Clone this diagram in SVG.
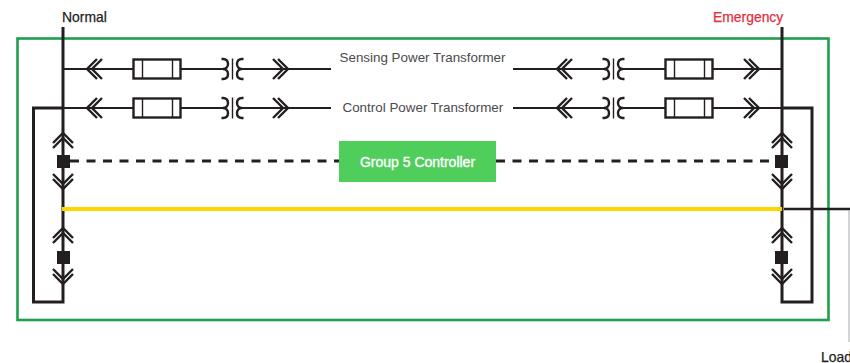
<svg xmlns="http://www.w3.org/2000/svg" width="850" height="363" viewBox="0 0 850 363">
<style>
text{font-family:"Liberation Sans",Arial,sans-serif;font-size:13.9px}
.lbl{fill:#4a4a4c;font-size:13.4px}
.w{fill:none;stroke:#231f20;stroke-width:2}
.b{fill:none;stroke:#231f20;stroke-width:3}
.f{fill:#fff;stroke:#231f20;stroke-width:2.4}
.th{fill:none;stroke:#231f20;stroke-width:1.4}
.ch{fill:none;stroke:#231f20;stroke-width:2.4}
.sq{fill:#231f20}
</style>
<defs>
<g id="fuse"><rect class="f" x="0" y="-9.500" width="47" height="19"/><path class="th" d="M9-9.500V9.500M39-9.500V9.500"/></g>
<g id="tx"><path class="ch" d="M-11-10h1.500c3.500 0 5 2 5 5 0 3-2 5-5 5 3 0 5 2 5 5 0 3-1.500 5-5 5h-1.500"/><path class="th" d="M0-10.500V10.500"/><path class="ch" d="M11-10h-1.500c-3.500 0-5 2-5 5 0 3 2 5 5 5-3 0-5 2-5 5 0 3 1.500 5 5 5h1.500"/></g>
<g id="cl"><path class="ch" d="M10-10 0 0 10 10M15-10 5 0 15 10"/></g>
<g id="cr"><path class="ch" d="M-10-10 0 0-10 10M-15-10-5 0-15 10"/></g>
<g id="cu"><path class="ch" d="M-10 10 0 0 10 10M-10 15 0 5 10 15"/></g>
<g id="cd"><path class="ch" d="M-10-10 0 0 10-10M-10-5 0 5 10-5"/></g>
</defs>
<g id="enclosure"><rect x="17.500" y="38.500" width="811" height="281.500" fill="none" stroke="#1f9e4b" stroke-width="2.600"/></g>
<g id="connectors">
<path class="w" d="M63 69H223M242 69H331M513 69H604.500M623 69H782M63 108H223M242 108H331M513 108H604.500M623 108H782"/>
<path class="b" d="M63 27V302H33.500V108H63M782 27V302H812V108H782"/>
<path d="M784 209H850" fill="none" stroke="#231f20" stroke-width="2.400"/>
<path d="M849 210V342" fill="none" stroke="#a7a9ac" stroke-width="1"/>
<path d="M62 209H782" fill="none" stroke="#ffd500" stroke-width="4"/>
<path d="M70 161H339M496 161H775" fill="none" stroke="#231f20" stroke-width="3" stroke-dasharray="9 7.500"/>
</g>
<g id="sensing-left"><use href="#cl" x="87" y="69"/><use href="#fuse" x="133.500" y="69"/><use href="#tx" x="232.500" y="69"/><use href="#cr" x="288" y="69"/></g>
<g id="control-left"><use href="#cl" x="87" y="108"/><use href="#fuse" x="133.500" y="108"/><use href="#tx" x="232.500" y="108"/><use href="#cr" x="288" y="108"/></g>
<g id="sensing-right"><use href="#cl" x="557" y="69"/><use href="#tx" x="613.500" y="69"/><use href="#fuse" x="665.500" y="69"/><use href="#cr" x="759" y="69"/></g>
<g id="control-right"><use href="#cl" x="557" y="108"/><use href="#tx" x="613.500" y="108"/><use href="#fuse" x="665.500" y="108"/><use href="#cr" x="759" y="108"/></g>
<g id="breaker-left-top"><use href="#cu" x="63" y="133"/><rect class="sq" x="57" y="155" width="13" height="13"/><use href="#cd" x="63" y="184"/></g>
<g id="breaker-left-bottom"><use href="#cu" x="63" y="228"/><rect class="sq" x="57" y="251" width="13" height="13"/><use href="#cd" x="63" y="279"/></g>
<g id="breaker-right-top"><use href="#cu" x="782" y="133"/><rect class="sq" x="775" y="155" width="13" height="13"/><use href="#cd" x="782" y="184"/></g>
<g id="breaker-right-bottom"><use href="#cu" x="782" y="228"/><rect class="sq" x="775" y="251" width="13" height="13"/><use href="#cd" x="782" y="279"/></g>
<g id="controller"><rect x="339" y="141" width="157" height="41" fill="#50ce5b"/><text x="417.500" y="166.500" text-anchor="middle" fill="#fff" stroke="#fff" stroke-width=".35" style="font-size:14px">Group 5 Controller</text></g>
<g id="labels">
<text x="62" y="22" fill="#231f20" stroke="#231f20" stroke-width=".25">Normal</text>
<text x="713" y="22" fill="#e0303e" stroke="#e0303e" stroke-width=".25">Emergency</text>
<text class="lbl" x="339.500" y="62">Sensing Power Transformer</text>
<text class="lbl" x="342.500" y="112">Control Power Transformer</text>
<text x="821" y="362" fill="#231f20" stroke="#231f20" stroke-width=".25">Load</text>
</g>
</svg>
